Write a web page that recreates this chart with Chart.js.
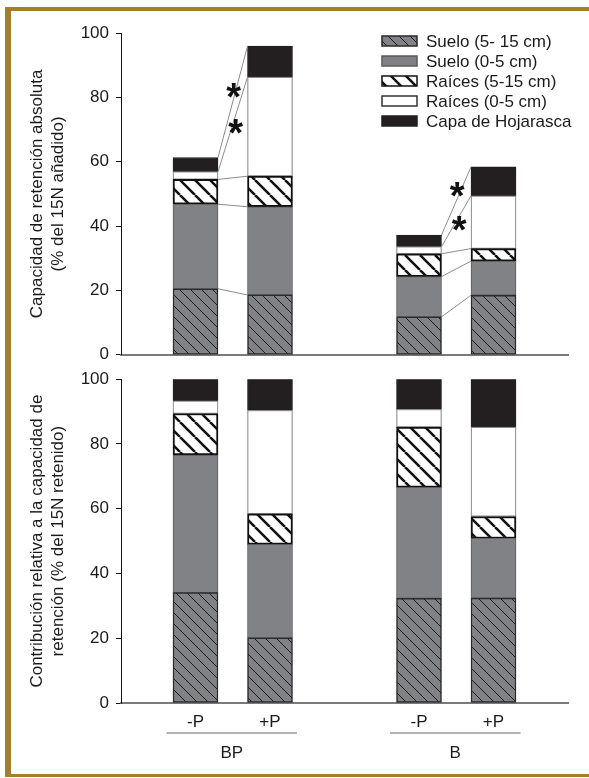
<!DOCTYPE html>
<html>
<head>
<meta charset="utf-8">
<script src="https://cdn.jsdelivr.net/npm/chart.js@4.4.1/dist/chart.umd.min.js"></script>
<style>
  html, body { margin: 0; padding: 0; background: #fff; }
  #page { position: relative; width: 589px; height: 778px; overflow: hidden; }
  .frame { position: absolute; background: #a67f2c; }
  canvas { position: absolute; left: 0; }
</style>
</head>
<body>
<div id="page">
  <div class="frame" style="left:5px; top:7px; width:584px; height:4px;"></div>
  <div class="frame" style="left:5px; top:7px; width:6px; height:770px;"></div>
  <div class="frame" style="left:5px; top:774px; width:584px; height:3px;"></div>
  <canvas id="chart-rel" width="589" height="416" style="top:362px"></canvas>
  <canvas id="chart-abs" width="589" height="372" style="top:0px"></canvas>
</div>
<script>
// categories on the x axis ('' = spacer between the two groups)
const categories = ['', '-P', '+P', '', '-P', '+P', ''];
const groups = ['BP', 'B'];
const groupRanges = [[1, 2], [4, 5]];
const seriesNames = ['Suelo (5- 15 cm)', 'Suelo (0-5 cm)', 'Raíces (5-15 cm)', 'Raíces (0-5 cm)', 'Capa de Hojarasca'];

// capacidad de retención absoluta (% del 15N añadido), segment heights
const absSuelo515   = [null, 20.5, 18.6, null, 11.8, 18.5, null];
const absSuelo05    = [null, 26.3, 27.4, null, 12.5, 10.6, null];
const absRaices515  = [null, 7.7, 9.5, null, 7.1, 3.9, null];
const absRaices05   = [null, 2.4, 30.8, null, 2.2, 16.4, null];
const absHojarasca  = [null, 4.4, 9.6, null, 3.6, 9.0, null];

// contribución relativa (% del 15N retenido), segment heights
const relSuelo515   = [null, 34.1, 20.1, null, 32.3, 32.4, null];
const relSuelo05    = [null, 42.5, 28.9, null, 34.3, 18.4, null];
const relRaices515  = [null, 12.8, 9.4, null, 18.6, 6.8, null];
const relRaices05   = [null, 3.9, 32.0, null, 5.5, 27.6, null];
const relHojarasca  = [null, 6.7, 9.6, null, 9.3, 14.8, null];

// series that carry a significance asterisk (Capa de Hojarasca, Raíces 0-5)
const starredSeries = [4, 3];

const FONT = "'Liberation Sans', Arial, sans-serif";
const TXT = '#1a1a1a';

function hatch(bg, lineColor, lineWidth, size) {
    const c = document.createElement('canvas');
    c.width = size; c.height = size;
    const g = c.getContext('2d');
    g.fillStyle = bg;
    g.fillRect(0, 0, size, size);
    g.strokeStyle = lineColor;
    g.lineWidth = lineWidth;
    g.beginPath();
    for (let k = -1; k <= 1; k++) {
        g.moveTo(k * size, 0);
        g.lineTo(k * size + size, size);
    }
    g.stroke();
    return document.getElementById('chart-abs').getContext('2d').createPattern(c, 'repeat');
}

const styles = [
    { backgroundColor: hatch('#818285', '#1a1a1a', 1, 11), borderColor: '#2a2a2a', borderWidth: 1.5 },
    { backgroundColor: '#818285', borderColor: '#5a5a5a', borderWidth: 1 },
    { backgroundColor: hatch('#ffffff', '#111111', 2.5, 15), borderColor: '#111111', borderWidth: 2 },
    { backgroundColor: '#ffffff', borderColor: '#8a8a8a', borderWidth: 1.2 },
    { backgroundColor: '#231f20', borderColor: '#231f20', borderWidth: 1 }
];

function makeDatasets(series) {
    return series.map((vals, i) => Object.assign({
        label: seriesNames[i],
        data: vals,
        barThickness: 45,
        borderSkipped: false
    }, styles[i]));
}

function yScale(title) {
    return {
        stacked: true,
        min: 0,
        max: 100,
        ticks: { stepSize: 20, color: TXT, font: { family: FONT, size: 17 }, padding: 7 },
        grid: { drawOnChartArea: false, drawTicks: true, tickLength: 5, color: '#111' },
        border: { display: true, color: '#111', width: 1 },
        title: {
            display: true,
            text: title,
            color: TXT,
            font: { family: FONT, size: 17, lineHeight: 1.235 },
            padding: { top: 26.5, bottom: 0 }
        },
        afterFit(scale) { scale.width = 121; }
    };
}

// thin lines between stacked tops of the two bars of each group + asterisks
const connectors = {
    id: 'connectors',
    afterDatasetsDraw(chart) {
        const ctx = chart.ctx;
        const shift = { 4: [1, -13], 3: [3, 0] };
        ctx.save();
        ctx.strokeStyle = '#8c8c8c';
        ctx.lineWidth = 1;
        groupRanges.forEach(([a, b]) => {
            chart.data.datasets.forEach((ds, di) => {
                const m = chart.getDatasetMeta(di);
                const e1 = m.data[a], e2 = m.data[b];
                ctx.beginPath();
                ctx.moveTo(e1.x + e1.width / 2, e1.y);
                ctx.lineTo(e2.x - e2.width / 2, e2.y);
                ctx.stroke();
            });
            ctx.fillStyle = '#111';
            ctx.font = 'bold 38px ' + FONT;
            ctx.textAlign = 'center';
            ctx.textBaseline = 'alphabetic';
            starredSeries.forEach(di => {
                const m = chart.getDatasetMeta(di);
                const e1 = m.data[a], e2 = m.data[b];
                const x = (e1.x + e1.width / 2 + e2.x - e2.width / 2) / 2 + shift[di][0];
                const y = (e1.y + e2.y) / 2 + shift[di][1];
                ctx.fillText('*', x, y + 38 * 0.56);
            });
        });
        ctx.restore();
    }
};

const legendBox = {
    id: 'legendBox',
    afterDraw(chart) {
        const ctx = chart.ctx;
        ctx.save();
        ctx.font = '17px ' + FONT;
        ctx.textBaseline = 'middle';
        ctx.textAlign = 'left';
        chart.data.datasets.forEach((ds, i) => {
            const y = 41 + i * 20;
            ctx.fillStyle = ds.backgroundColor;
            ctx.fillRect(382, y - 5, 35, 10);
            ctx.strokeStyle = i === 3 ? '#333' : ds.borderColor;
            ctx.lineWidth = 1.5;
            ctx.strokeRect(382, y - 5, 35, 10);
            ctx.fillStyle = TXT;
            ctx.fillText(ds.label, 426, y + 1);
        });
        ctx.restore();
    }
};

const groupLabels = {
    id: 'groupLabels',
    afterDraw(chart) {
        const ctx = chart.ctx;
        const xs = chart.scales.x;
        const base = chart.chartArea.bottom;
        ctx.save();
        ctx.strokeStyle = '#9a9a9a';
        ctx.lineWidth = 1.5;
        ctx.fillStyle = TXT;
        ctx.font = '17px ' + FONT;
        ctx.textAlign = 'center';
        ctx.textBaseline = 'middle';
        groupRanges.forEach(([a, b], gi) => {
            const x1 = xs.getPixelForValue(a) - 29;
            const x2 = xs.getPixelForValue(b) + 27;
            ctx.beginPath();
            ctx.moveTo(x1, base + 30);
            ctx.lineTo(x2, base + 30);
            ctx.stroke();
            ctx.fillText(groups[gi], (x1 + x2) / 2, base + 50);
        });
        ctx.restore();
    }
};

new Chart(document.getElementById('chart-abs'), {
    type: 'bar',
    data: {
        labels: categories,
        datasets: makeDatasets([absSuelo515, absSuelo05, absRaices515, absRaices05, absHojarasca])
    },
    options: {
        responsive: false,
        animation: false,
        devicePixelRatio: 1,
        layout: { padding: { top: 33, right: 21, bottom: 0, left: 0 } },
        plugins: { legend: { display: false }, tooltip: { enabled: false } },
        scales: {
            x: {
                stacked: true,
                offset: false,
                grid: { display: false, drawTicks: false },
                ticks: { display: false },
                border: { display: true, color: '#7a7a7a', width: 2 },
                afterFit(scale) { scale.height = 9; }
            },
            y: yScale(['Capacidad de retención absoluta', '(% del 15N añadido)'])
        }
    },
    plugins: [connectors, legendBox]
});

new Chart(document.getElementById('chart-rel'), {
    type: 'bar',
    data: {
        labels: categories,
        datasets: makeDatasets([relSuelo515, relSuelo05, relRaices515, relRaices05, relHojarasca])
    },
    options: {
        responsive: false,
        animation: false,
        devicePixelRatio: 1,
        layout: { padding: { top: 13, right: 21, bottom: 0, left: 0 } },
        plugins: { legend: { display: false }, tooltip: { enabled: false } },
        scales: {
            x: {
                stacked: true,
                offset: false,
                grid: { display: false, drawTicks: false },
                ticks: { color: TXT, font: { family: FONT, size: 17 }, padding: 9, autoSkip: false, maxRotation: 0 },
                border: { display: true, color: '#7a7a7a', width: 2 },
                afterFit(scale) { scale.height = 75; }
            },
            y: yScale(['Contribución relativa a la capacidad de', 'retención (% del 15N retenido)'])
        }
    },
    plugins: [groupLabels]
});
</script>
</body>
</html>
